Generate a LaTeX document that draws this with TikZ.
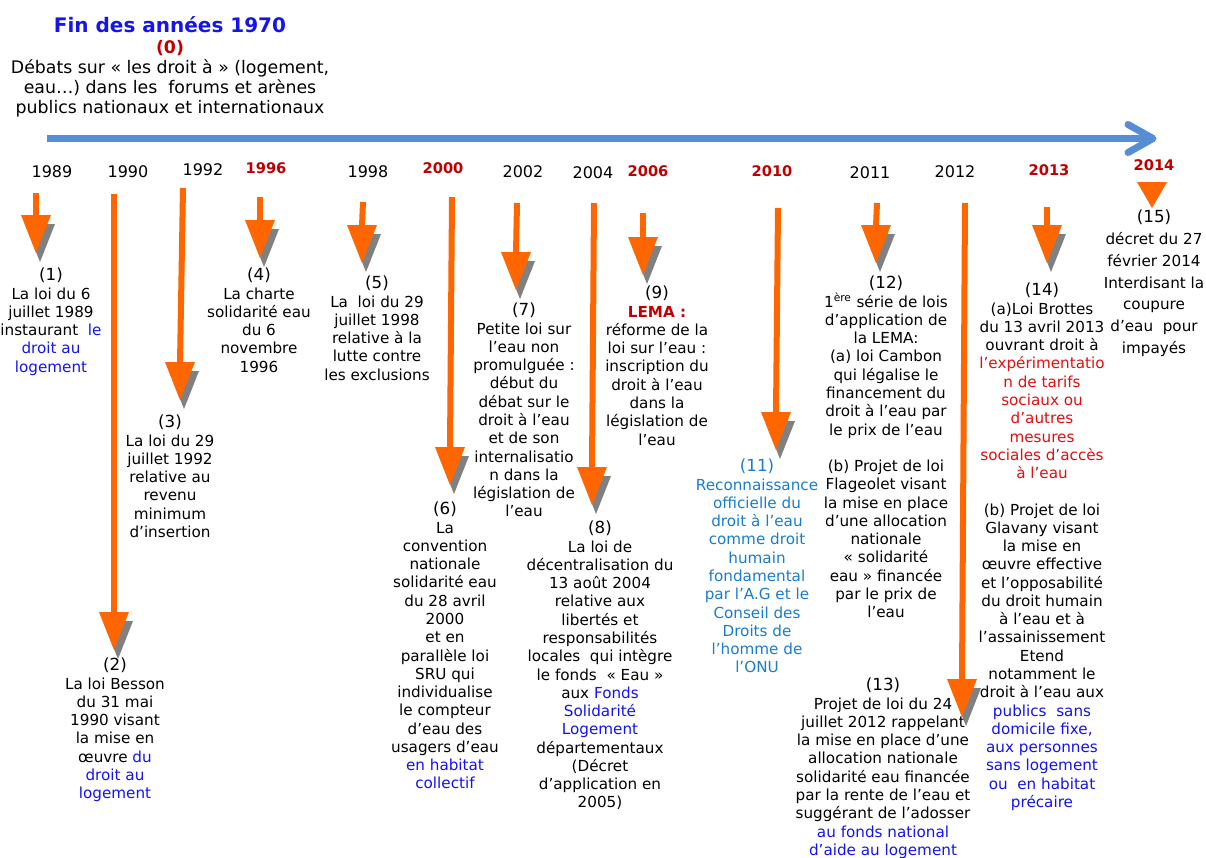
\documentclass[tikz,border=0pt]{standalone}
\usepackage{fontspec}
\setmainfont{DejaVu Sans}
\usepackage{xcolor}
\usepackage{tikz}

\definecolor{orangeA}{RGB}{255,102,0}
\definecolor{grisO}{RGB}{128,128,128}
\definecolor{bleuAxe}{RGB}{85,142,213}
\definecolor{bleuT}{RGB}{20,20,235}
\definecolor{bleuC}{RGB}{25,125,205}
\definecolor{rougeA}{RGB}{192,0,0}
\definecolor{rougeT}{RGB}{225,15,15}

\newcommand{\bl}[1]{\textcolor{bleuT}{#1}}
\newcommand{\rg}[1]{\textcolor{rougeT}{#1}}
\newcommand{\etiq}[1]{{\fontsize{12.5}{13.7}\selectfont(#1)}}
\newcommand{\fleche}[2]{%
  \fill [ombre] ([shift={(4,9)}]#2) -- ++(-15,-38) -- ++(30,0) -- cycle;
  \draw [tige] (#1) -- ([shift={(0,-37)}]#2);
  \fill [pointe] (#2) -- ++(-15,-38) -- ++(30,0) -- cycle;}

\begin{document}
\begin{tikzpicture}[x=0.75pt,y=-0.75pt]
\tikzstyle{titre} = [text=bleuT, font=\fontsize{15}{18}\selectfont\bfseries]
\tikzstyle{debat} = [align=center, anchor=north, inner sep=0pt, font=\fontsize{13}{15}\selectfont]
\tikzstyle{annee} = [font=\fontsize{12}{14}\selectfont]
\tikzstyle{anneeR} = [text=rougeA, font=\fontsize{11}{13}\selectfont\bfseries]
\tikzstyle{evt} = [align=center, anchor=north, inner sep=0pt, font=\fontsize{11.4}{13.7}\selectfont]
\tikzstyle{evtL} = [evt, font=\fontsize{11.4}{16.3}\selectfont]
\tikzstyle{axe} = [draw=bleuAxe, line width=5.25pt]
\tikzstyle{tige} = [draw=orangeA, line width=4.5pt]
\tikzstyle{pointe} = [fill=orangeA]
\tikzstyle{ombre} = [fill=grisO]

\path [use as bounding box, fill=white] (0,0) rectangle (1206,857);

\node (titre) [titre] at (170,25) {Fin des années 1970};
\node (debat) [debat] at (170,40) {\textcolor{rougeA}{\textbf{(0)}}\\ Débats sur « les droit à » (logement,\\ eau…) dans les\ \ forums et arènes\\ publics nationaux et internationaux};

\coordinate (axeG) at (47,138.5);
\coordinate (axeD) at (1153,138.5);
\draw [axe] (axeG) -- (axeD);
\draw [axe, line cap=round, line join=round] ([shift={(-25,-14)}]axeD) -- (axeD) -- ([shift={(-25,14)}]axeD);

\node (an1989) [annee] at (52,172) {1989};
\node (an1990) [annee] at (128,172) {1990};
\node (an1992) [annee] at (203,170) {1992};
\node (an1996) [anneeR] at (266,168) {1996};
\node (an1998) [annee] at (368,172) {1998};
\node (an2000) [anneeR] at (443,168) {2000};
\node (an2002) [annee] at (523,172) {2002};
\node (an2004) [annee] at (593,173) {2004};
\node (an2006) [anneeR] at (648,171) {2006};
\node (an2010) [anneeR] at (772,171) {2010};
\node (an2011) [annee] at (870,173) {2011};
\node (an2012) [annee] at (955,172) {2012};
\node (an2013) [anneeR] at (1049,170) {2013};
\node (an2014) [anneeR] at (1154,165) {2014};

\node (ev1) [evt] at (51,268) {\etiq{1}\\ La loi du 6\\ juillet 1989\\ instaurant\ \ \bl{le}\\ \bl{droit au}\\ \bl{logement}};
\node (ev2) [evt] at (115,658) {\etiq{2}\\ La loi Besson\\ du 31 mai\\ 1990 visant\\ la mise en\\ œuvre \bl{du}\\ \bl{droit au}\\ \bl{logement}};
\node (ev3) [evt] at (170,415) {\etiq{3}\\ La loi du 29\\ juillet 1992\\ relative au\\ revenu\\ minimum\\ d’insertion};
\node (ev4) [evt] at (259,268) {\etiq{4}\\ La charte\\ solidarité eau\\ du 6\\ novembre\\ 1996};
\node (ev5) [evt] at (377,276) {\etiq{5}\\ La\ \ loi du 29\\ juillet 1998\\ relative à la\\ lutte contre\\ les exclusions};
\node (ev6) [evt] at (445,502) {\etiq{6}\\ La\\ convention\\ nationale\\ solidarité eau\\ du 28 avril\\ 2000\\ et en\\ parallèle loi\\ SRU qui\\ individualise\\ le compteur\\ d’eau des\\ usagers d’eau\\ \bl{en habitat}\\ \bl{collectif}};
\node (ev7) [evt] at (524,303) {\etiq{7}\\ Petite loi sur\\ l’eau non\\ promulguée :\\ début du\\ débat sur le\\ droit à l’eau\\ et de son\\ internalisatio\\ n dans la\\ législation de\\ l’eau};
\node (ev8) [evt] at (600,521) {\etiq{8}\\ La loi de\\ décentralisation du\\ 13 août 2004\\ relative aux\\ libertés et\\ responsabilités\\ locales\ \ qui intègre\\ le fonds\ \ « Eau »\\ aux \bl{Fonds}\\ \bl{Solidarité}\\ \bl{Logement}\\ départementaux\\ (Décret\\ d’application en\\ 2005)};
\node (ev9) [evt] at (657,286) {\etiq{9}\\ \textcolor{rougeA}{\textbf{LEMA :}}\\ réforme de la\\ loi sur l’eau :\\ inscription du\\ droit à l’eau\\ dans la\\ législation de\\ l’eau};
\node (ev11) [evt, text=bleuC] at (757,459) {\etiq{11}\\ Reconnaissance\\ officielle du\\ droit à l’eau\\ comme droit\\ humain\\ fondamental\\ par l’A.G et le\\ Conseil des\\ Droits de\\ l’homme de\\ l’ONU};
\node (ev12) [evt] at (886,276) {\etiq{12}\\ 1\textsuperscript{ère} série de lois\\ d’application de\\ la LEMA:\\ (a) loi Cambon\\ qui légalise le\\ financement du\\ droit à l’eau par\\ le prix de l’eau\\[13.7pt] (b) Projet de loi\\ Flageolet visant\\ la mise en place\\ d’une allocation\\ nationale\\ « solidarité\\ eau » financée\\ par le prix de\\ l’eau};
\node (ev13) [evt] at (883,678) {\etiq{13}\\ Projet de loi du 24\\ juillet 2012 rappelant\\ la mise en place d’une\\ allocation nationale\\ solidarité eau financée\\ par la rente de l’eau et\\ suggérant de l’adosser\\ \bl{au fonds national}\\ \bl{d’aide au logement}};
\node (ev14) [evt] at (1042,283) {\etiq{14}\\ (a)Loi Brottes\\ du 13 avril 2013\\ ouvrant droit à\\ \rg{l’expérimentatio}\\ \rg{n de tarifs}\\ \rg{sociaux ou}\\ \rg{d’autres}\\ \rg{mesures}\\ \rg{sociales d’accès}\\ \rg{à l’eau}\\[13.7pt] (b) Projet de loi\\ Glavany visant\\ la mise en\\ œuvre effective\\ et l’opposabilité\\ du droit humain\\ à l’eau et à\\ l’assainissement\\ Etend\\ notamment le\\ droit à l’eau aux\\ \bl{publics\ \ sans}\\ \bl{domicile fixe,}\\ \bl{aux personnes}\\ \bl{sans logement}\\ \bl{ou\ \ en habitat}\\ \bl{précaire}};
\node (ev15) [evtL] at (1154,210) {\etiq{15}\\ décret du 27\\ février 2014\\ Interdisant la\\ coupure\\ d’eau\ \ pour\\ impayés};

\coordinate (d1) at (36,193);    \coordinate (p1) at (36,253);
\coordinate (d2) at (114,194);   \coordinate (p2) at (114,650);
\coordinate (d3) at (183,188);   \coordinate (p3) at (180,400);
\coordinate (d4) at (260,197);   \coordinate (p4) at (260,258);
\coordinate (d5) at (363,202);   \coordinate (p5) at (362,263);
\coordinate (d6) at (452,197);   \coordinate (p6) at (450,485);
\coordinate (d7) at (517,203);   \coordinate (p7) at (516,290);
\coordinate (d8) at (594,203);   \coordinate (p8) at (592,505);
\coordinate (d9) at (643,213);   \coordinate (p9) at (643,275);
\coordinate (d11) at (778,208);  \coordinate (p11) at (776,450);
\coordinate (d12) at (877,203);  \coordinate (p12) at (876,263);
\coordinate (d13) at (965,203);  \coordinate (p13) at (962,717);
\coordinate (d14) at (1047,207); \coordinate (p14) at (1047,263);
\coordinate (p15) at (1152,208);

\fleche{d1}{p1}
\fleche{d2}{p2}
\fleche{d3}{p3}
\fleche{d4}{p4}
\fleche{d5}{p5}
\fleche{d6}{p6}
\fleche{d7}{p7}
\fleche{d8}{p8}
\fleche{d9}{p9}
\fleche{d11}{p11}
\fleche{d12}{p12}
\fleche{d13}{p13}
\fleche{d14}{p14}
\fill [pointe] (p15) -- ++(-15,-26) -- ++(30,0) -- cycle;
\end{tikzpicture}
\end{document}
